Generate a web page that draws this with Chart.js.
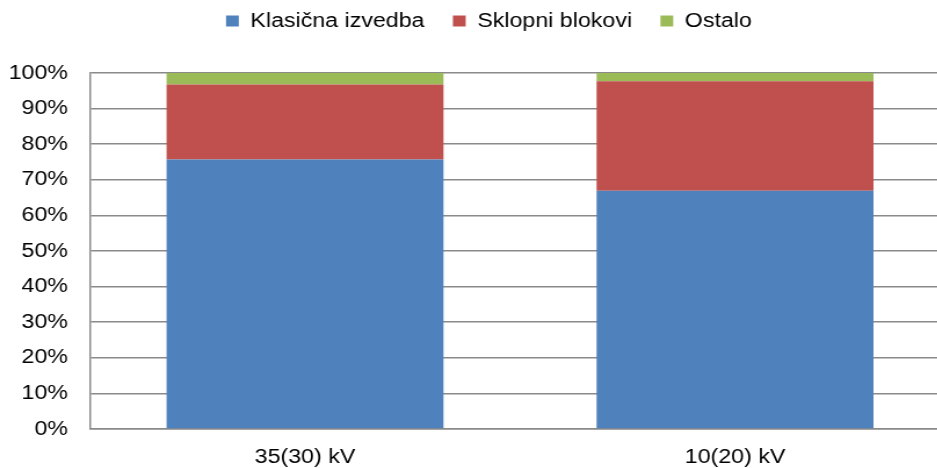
<!DOCTYPE html>
<html>
<head>
<meta charset="utf-8">
<script src="https://cdn.jsdelivr.net/npm/chart.js@4/dist/chart.umd.min.js"></script>
<style>
  html, body { margin: 0; padding: 0; background: #fff; overflow: hidden; width: 937px; height: 468px; }
  /* the original is stretched sideways, so draw narrow and scale on x */
  #wrap { position: absolute; left: 0; top: 0; width: 819px; height: 468px; transform: scaleX(1.16); transform-origin: 0 0; }
</style>
</head>
<body>
<div id="wrap"><canvas id="chart"></canvas></div>
<script>
// categories and series (percent of total)
const categories = ['35(30) kV', '10(20) kV'];
const klasicna = [75.7, 66.9];
const sklopni = [21.1, 30.8];
const ostalo = [3.2, 2.3];
const seriesNames = ['Klasična izvedba', 'Sklopni blokovi', 'Ostalo'];
const yTicks = [0, 10, 20, 30, 40, 50, 60, 70, 80, 90, 100];

const fontFamily = '"Liberation Sans", Arial, sans-serif';
const gridColor = '#8a8a8a';
const legendPad = 24.5;

// force the legend block height so the plot starts where it should,
// then move the legend up/right a bit to sit like the original
const legendTweak = {
    id: 'legendTweak',
    beforeInit(chart) {
        const lg = chart.legend;
        if (!lg) return;
        const origFit = lg.fit;
        lg.fit = function() {
            origFit.call(this);
            this.height = 73;
        };
    },
    afterLayout(chart) {
        const lg = chart.legend;
        if (!lg) return;
        lg.left += 12;
        lg.right += 12;
        lg.top -= (legendPad - 11);
    }
};

new Chart(document.getElementById('chart'), {
    type: 'bar',
    data: {
        labels: categories,
        datasets: [
            { label: seriesNames[0], data: klasicna, backgroundColor: '#4F81BD' },
            { label: seriesNames[1], data: sklopni, backgroundColor: '#C0504D' },
            { label: seriesNames[2], data: ostalo, backgroundColor: '#9BBB59' }
        ]
    },
    options: {
        responsive: true,
        maintainAspectRatio: false,
        animation: false,
        layout: { padding: 0 },
        datasets: {
            bar: { categoryPercentage: 1.0, barPercentage: 0.644, borderWidth: 0 }
        },
        plugins: {
            legend: {
                display: true,
                position: 'top',
                labels: {
                    boxWidth: 11,
                    boxHeight: 11,
                    padding: legendPad,
                    color: '#000',
                    font: { family: fontFamily, size: 20 }
                }
            },
            tooltip: { enabled: false }
        },
        scales: {
            x: {
                stacked: true,
                grid: { display: false, drawTicks: false },
                border: { display: true, color: gridColor, width: 1.5 },
                ticks: { color: '#000', padding: 16, font: { family: fontFamily, size: 20 } },
                afterFit(scale) { scale.height = 39; }
            },
            y: {
                stacked: true,
                min: 0,
                max: 100,
                afterBuildTicks(scale) { scale.ticks = yTicks.map(v => ({ value: v })); },
                grid: { color: gridColor, lineWidth: 1.5, drawTicks: false },
                border: { display: true, color: gridColor, width: 1.5 },
                ticks: {
                    color: '#000',
                    padding: 19,
                    font: { family: fontFamily, size: 20 },
                    callback: v => v + '%'
                },
                afterFit(scale) { scale.width = 77.6; }
            }
        }
    },
    plugins: [legendTweak]
});
</script>
</body>
</html>
